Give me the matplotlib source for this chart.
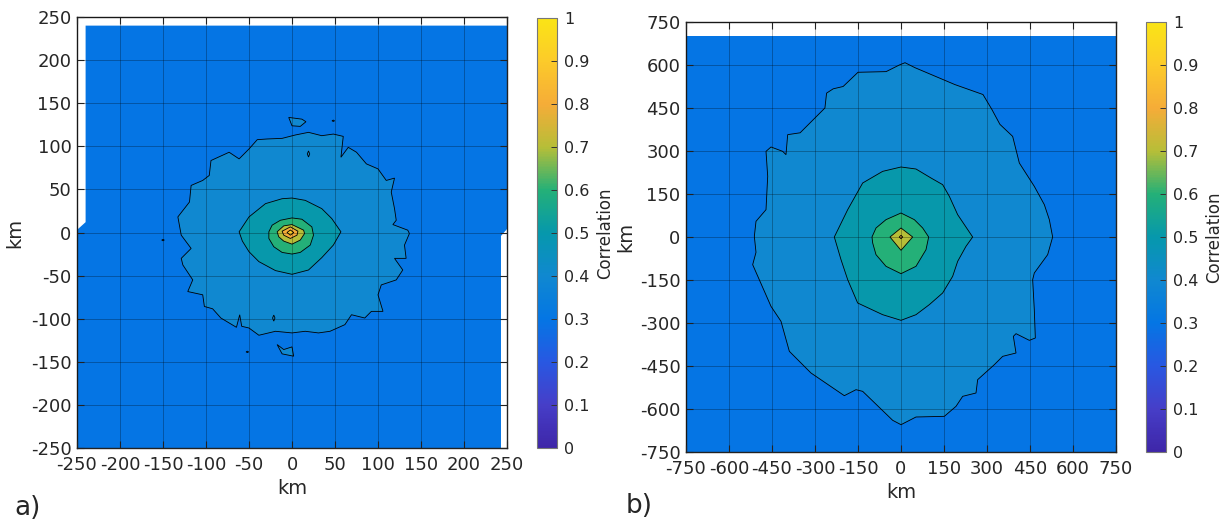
import matplotlib
matplotlib.use("Agg")
import matplotlib.pyplot as plt
from matplotlib.colors import LinearSegmentedColormap, Normalize
from matplotlib.cm import ScalarMappable
from matplotlib.patches import Polygon
import numpy as np

plt.rcParams['font.family'] = ['DejaVu Sans']
plt.rcParams['axes.unicode_minus'] = False

# colour scale (value -> RGB)
CBAR_VALUES = [0.0, 0.1, 0.2, 0.3, 0.4, 0.5, 0.6, 0.7, 0.8, 0.9, 1.0]
CBAR_RGB = [(62, 38, 168), (70, 62, 200), (40, 88, 226), (4, 118, 228),
            (16, 136, 208), (6, 152, 172), (36, 176, 120), (182, 190, 56),
            (245, 172, 56), (252, 202, 42), (250, 228, 22)]
CBAR_TICKS = [0.0, 0.1, 0.2, 0.3, 0.4, 0.5, 0.6, 0.7, 0.8, 0.9, 1.0]
BACKGROUND_LEVEL = 0.3

# ---------------- panel a (km) ----------------
a_ticks = [-250, -200, -150, -100, -50, 0, 50, 100, 150, 200, 250]
a_domain = [(-250, -250), (243, -250), (243, -4), (250, 4), (250, 240),
            (-240, 240), (-240, 12), (-250, 3)]
a_c40 = [(-94.2, 83.5), (-73.1, 93.1), (-61.5, 85.4), (-50, 96.9), (-40.4, 107.7),
         (-28.8, 108.5), (-11.5, 109.2), (3.8, 113.1), (19.2, 116.2), (34.6, 112.3),
         (48.1, 114.2), (59.6, 111.5), (56.9, 87.3), (65.4, 98.8), (75, 93.1),
         (86.5, 79.6), (100, 73.8), (109.6, 60.4), (119.2, 63.1), (115.4, 46.9),
         (119.2, 27.7), (121.2, 14.2), (117.3, 9.2), (134.6, 2.7), (136.5, -1.2),
         (130.8, -14.6), (132.7, -30), (119.2, -30), (128.8, -43.5), (121.2, -55),
         (103.8, -60.8), (100, -72.3), (105.8, -91.5), (92.3, -91.5), (84.6, -99.2),
         (69.2, -95.4), (61.5, -106.9), (44.2, -114.6), (30.8, -116.5), (15.4, -114.6),
         (0, -116.5), (-19.2, -114.6), (-38.5, -119.2), (-50, -110.8), (-58.5, -108.8),
         (-60.8, -95.4), (-64.6, -110), (-82.7, -99.2), (-92.3, -88.5), (-101.9, -85.8),
         (-103.8, -72.3), (-121.2, -68.5), (-115.4, -55), (-126.9, -37.7), (-128.8, -30),
         (-117.3, -18.5), (-128.8, -3.1), (-132.7, 18.1), (-119.2, 35.4), (-117.3, 54.6),
         (-103.8, 60.4), (-96.2, 66.2)]
a_c40_islands = [
    [(-3.8, 133.5), (11.5, 131.5), (16.2, 128.5), (9.6, 123.1), (0, 123.8)],
    [(-17.3, -130), (-9.6, -135.8), (0, -132.7), (1.9, -143.5), (-11.5, -140.8)],
    [(19.2, 94.6), (20.6, 91.2), (19.2, 87.6), (17.8, 91.2)],
    [(-21.2, -95.8), (-19.8, -99.2), (-21.2, -102.8), (-22.6, -99.2)],
    [(46.5, 129.6), (48, 130.4), (49.5, 129.6), (48, 128.8)],
    [(-151.5, -8.8), (-150, -8.0), (-148.5, -8.8), (-150, -9.6)],
    [(-53.4, -138.5), (-51.9, -137.7), (-50.4, -138.5), (-51.9, -139.3)],
]
a_c50 = [(-61.5, 0.8), (-50, 18.1), (-30.8, 33.5), (-11.5, 39.2), (0, 40),
         (15.4, 37.3), (34.6, 27.7), (46.2, 16.2), (56.9, 0.8), (48.1, -14.6),
         (34.6, -29.2), (19.2, -43.5), (0, -48.5), (-19.2, -44.2), (-38.5, -33.8),
         (-50, -22.3), (-57.7, -10)]
a_c60 = [(-26.9, 0.8), (-23.1, 8.5), (-13.5, 14.2), (0, 16.9), (11.5, 15.4),
         (23.1, 6.5), (25, -3.1), (21.2, -14.6), (9.6, -23.1), (0, -25),
         (-11.5, -23.1), (-21.2, -16.5), (-26.9, -6.9)]
a_c70 = [(-17.3, 0.8), (-9.6, 7.7), (0, 9.2), (13.5, 2.7), (14.6, -1.2),
         (9.6, -8.8), (0, -13.5), (-9.6, -10), (-15.4, -5)]
a_c80 = [(-11.5, 1.5), (-1.9, 6.5), (6.9, 1.5), (5.8, -3.1), (-1.9, -6.9), (-9.6, -3.1)]
a_c90 = [(-5.8, 0), (-1.9, 2.9), (2.1, 0), (-1.9, -3.1)]

# ---------------- panel b (km) ----------------
b_ticks = [-750, -600, -450, -300, -150, 0, 150, 300, 450, 600, 750]
b_domain = [(-750, -750), (750, -750), (750, 700), (-750, 700)]
b_c40 = [(-5.8, 600), (14, 608), (48.8, 590.6), (188, 531.7), (286, 497),
         (317, 445), (345, 393), (363, 376), (389.5, 351), (412.8, 258),
         (465, 176.7), (500, 112.8), (517.4, 60.5), (529, 0), (511.6, -61.6),
         (465, -125.6), (459.3, -148.8), (465, -253.5), (468.6, -352.3),
         (447.7, -360.5), (401.2, -337.2), (391.9, -346.5), (401.2, -404.7),
         (354.7, -416.3), (325.6, -445.3), (267.4, -497.7), (261.6, -544.2),
         (215.1, -555.8), (191.9, -590.7), (151.2, -625.6), (52.3, -627.9),
         (0, -654.7), (-29, -639.5), (-133.7, -538.4), (-157, -532.6),
         (-197.7, -553.5), (-314, -474.4), (-389.5, -398.8), (-418.6, -294.2),
         (-453.5, -241.9), (-517.4, -96.5), (-505.8, -53.5), (-511.6, 2.3),
         (-505.8, 54.7), (-470.9, 95.3), (-465, 211.6), (-470.9, 298.8),
         (-453.5, 314), (-412.8, 298.8), (-401.2, 287.2), (-395.3, 357),
         (-351.9, 363.5), (-305.8, 409.6), (-265.4, 450), (-259.6, 501.9),
         (-236.5, 516.9), (-201.9, 525), (-150, 574.6), (-51.9, 576.9)]
b_c50 = [(-232.6, 0), (-186, 95.3), (-133.7, 188.4), (-64, 229), (0, 244.2),
         (52.3, 237.2), (104.7, 205.8), (145.3, 182.6), (168.6, 141.9), (197.7, 77.9),
         (250, 0), (226.7, -32.6), (197.7, -84.9), (180.2, -137.2), (145.3, -195.3),
         (98.8, -236), (52.3, -271), (0, -290.7), (-64, -271), (-151.2, -230.2),
         (-186, -148.8), (-209.3, -79)]
b_c60 = [(-101.2, 0), (-87.2, 31.4), (-52.3, 60.5), (0, 83.7), (46.5, 60.5),
         (75.6, 31.4), (96.5, 0), (87.2, -44.2), (52.3, -102.3), (0, -127.9),
         (-52.3, -102.3), (-87.2, -61.6), (-98.8, -20.9)]
b_c70 = [(-38.4, 0), (0, 31.4), (40.7, 0), (0, -46.5)]
b_c80 = [(-6, 0), (0, 6), (6, 0), (0, -6)]

cmap = LinearSegmentedColormap.from_list(
    "corr", [(v, tuple(c / 255 for c in rgb)) for v, rgb in zip(CBAR_VALUES, CBAR_RGB)])
norm = Normalize(0, 1)

TXT = "#262626"
W, H = 1221, 520
fig = plt.figure(figsize=(W / 100, H / 100), dpi=100)


def draw_panel(ax, domain, layers, ticks, ylabelpad):
    ax.add_patch(Polygon(domain, closed=True, fc=cmap(norm(BACKGROUND_LEVEL)),
                         ec="none", zorder=1))
    for level, polys in layers:
        for poly in polys:
            ax.add_patch(Polygon(poly, closed=True, fc=cmap(norm(level)),
                                 ec="black", lw=0.6, zorder=1))
    lo, hi = ticks[0], ticks[-1]
    ax.set_xlim(lo, hi)
    ax.set_ylim(lo, hi)
    ax.set_xticks(ticks)
    ax.set_yticks(ticks)
    ax.set_axisbelow(False)
    ax.grid(True, color="black", alpha=0.28, lw=0.7)
    ax.tick_params(direction="in", top=True, right=True, length=5, width=0.8,
                   labelsize=13, labelcolor=TXT, color="#222222")
    ax.tick_params(axis="x", pad=6)
    ax.tick_params(axis="y", pad=4)
    for s in ax.spines.values():
        s.set_color("#222222")
        s.set_linewidth(1.0)
    ax.set_xlabel("km", fontsize=14, color=TXT, labelpad=3)
    ax.set_ylabel("km", fontsize=14, color=TXT, labelpad=ylabelpad)


def draw_cbar(cax):
    sm = ScalarMappable(norm=norm, cmap=cmap)
    cb = fig.colorbar(sm, cax=cax, ticks=CBAR_TICKS)
    cb.ax.set_yticklabels([f"{t:g}" for t in CBAR_TICKS])
    cb.ax.tick_params(direction="in", length=4, width=0.7, labelsize=11.5,
                      labelcolor=TXT, color="#333333", pad=5)
    cb.outline.set_edgecolor("#777777")
    cb.outline.set_linewidth(0.8)
    cb.set_label("Correlation", fontsize=12, color=TXT, labelpad=5)


def frac(l, t, w, h):
    return [l / W, (H - t - h) / H, w / W, h / H]


ax_a = fig.add_axes(frac(77, 17, 430, 431))
draw_panel(ax_a, a_domain,
           [(0.4, [a_c40] + a_c40_islands), (0.5, [a_c50]), (0.6, [a_c60]),
            (0.7, [a_c70]), (0.8, [a_c80]), (0.9, [a_c90])],
           a_ticks, ylabelpad=5)
cax_a = fig.add_axes(frac(537, 18, 20, 430))
draw_cbar(cax_a)

ax_b = fig.add_axes(frac(686, 22, 430, 430))
draw_panel(ax_b, b_domain,
           [(0.4, [b_c40]), (0.5, [b_c50]), (0.6, [b_c60]), (0.7, [b_c70]),
            (0.8, [b_c80])],
           b_ticks, ylabelpad=3)
cax_b = fig.add_axes(frac(1146, 22, 20, 430))
draw_cbar(cax_b)

fig.text(14 / W, 1 - 508 / H, "a)", fontsize=19, color=TXT, va="center")
fig.text(626 / W, 1 - 506 / H, "b)", fontsize=19, color=TXT, va="center")

fig.savefig("out.png", dpi=100, facecolor="white")
